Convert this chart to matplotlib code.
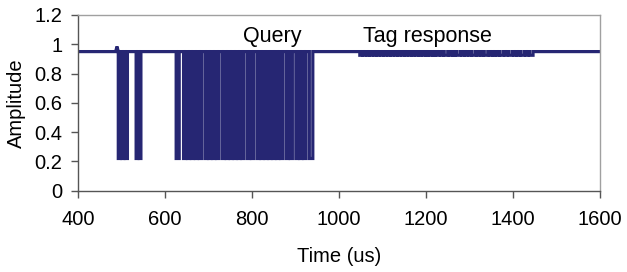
import matplotlib
matplotlib.use("Agg")
import matplotlib.pyplot as plt

plt.rcParams['font.family'] = ['Liberation Sans', 'DejaVu Sans']

# ---- data ----
baseline = 0.95
query_low = 0.22
tag_low = 0.925
overshoot_t, overshoot_a = 490, 0.985

query_dip_start = [493, 501, 509, 534, 541,
                   626,
                   643, 652, 661, 670, 679,
                   692, 701, 710, 719,
                   732, 741, 750, 759, 768, 777,
                   790, 799,
                   812, 821, 830, 839, 848, 857, 866,
                   879, 888,
                   901, 910, 919,
                   932]
query_dip_end = [498, 506, 514, 538, 545,
                 633,
                 648, 657, 666, 675, 684,
                 697, 706, 715, 724,
                 737, 746, 755, 764, 773, 782,
                 795, 804,
                 817, 826, 835, 844, 853, 862, 871,
                 884, 893,
                 906, 915, 924,
                 940]

tag_dip_start = [1048, 1056, 1064, 1072, 1080, 1088, 1096, 1104, 1112, 1120,
                 1128, 1136, 1144, 1152, 1160, 1168, 1176, 1184, 1192, 1200,
                 1208, 1216, 1224, 1234, 1242, 1254, 1262, 1270, 1282, 1290,
                 1298, 1306, 1318, 1326, 1334, 1346, 1354, 1362, 1370, 1382,
                 1390, 1402, 1410, 1418, 1430, 1438]
tag_dip_len = [5, 5, 5, 5, 5, 5, 5, 5, 5, 5,
               5, 5, 5, 5, 5, 5, 5, 5, 5, 5,
               5, 5, 6, 5, 8, 5, 5, 8, 5, 5,
               5, 8, 5, 5, 8, 5, 5, 5, 8, 5,
               8, 5, 5, 8, 5, 8]

x_ticks = [400, 600, 800, 1000, 1200, 1400, 1600]
y_ticks = [0, 0.2, 0.4, 0.6, 0.8, 1.0, 1.2]
y_tick_labels = ['0', '0.2', '0.4', '0.6', '0.8', '1', '1.2']

# ---- build trace ----
segments = [(s, e, query_low) for s, e in zip(query_dip_start, query_dip_end)]
segments += [(s, s + d, tag_low) for s, d in zip(tag_dip_start, tag_dip_len)]
segments.sort()

t = [400, overshoot_t - 3, overshoot_t]
a = [baseline, baseline, overshoot_a]
for s, e, lv in segments:
    t += [s, s, e, e]
    a += [baseline, lv, lv, baseline]
t.append(1600)
a.append(baseline)

# ---- figure ----
fig = plt.figure(figsize=(6.27, 2.72), dpi=100)
ax = fig.add_axes([0.1241, 0.2989, 0.957 - 0.1241, 0.9449 - 0.2989])
ax.plot(t, a, color='#262673', lw=2.3, solid_joinstyle='miter')

ax.set_xlim(400, 1600)
ax.set_ylim(0, 1.2)
ax.set_xticks(x_ticks)
ax.set_xticklabels([str(v) for v in x_ticks])
ax.set_yticks(y_ticks)
ax.set_yticklabels(y_tick_labels)

fs = 14.5
ax.tick_params(axis='both', labelsize=fs, direction='out', colors='#555555',
               labelcolor='black', width=1)
ax.tick_params(axis='x', length=5, pad=9)
ax.tick_params(axis='y', length=5, pad=6)
for side in ['left', 'bottom']:
    ax.spines[side].set_color('#555555')
    ax.spines[side].set_linewidth(1)
for side in ['top', 'right']:
    ax.spines[side].set_color('#a0a0a0')
    ax.spines[side].set_linewidth(1)

ax.set_xlabel('Time (us)', fontsize=fs, labelpad=13)
ax.set_ylabel('Amplitude', fontsize=fs, labelpad=6)

ax.text(846, 1.055, 'Query', fontsize=15.5, ha='center', va='center')
ax.text(1203, 1.055, 'Tag response', fontsize=15.5, ha='center', va='center')

fig.savefig('out.png', dpi=100)
